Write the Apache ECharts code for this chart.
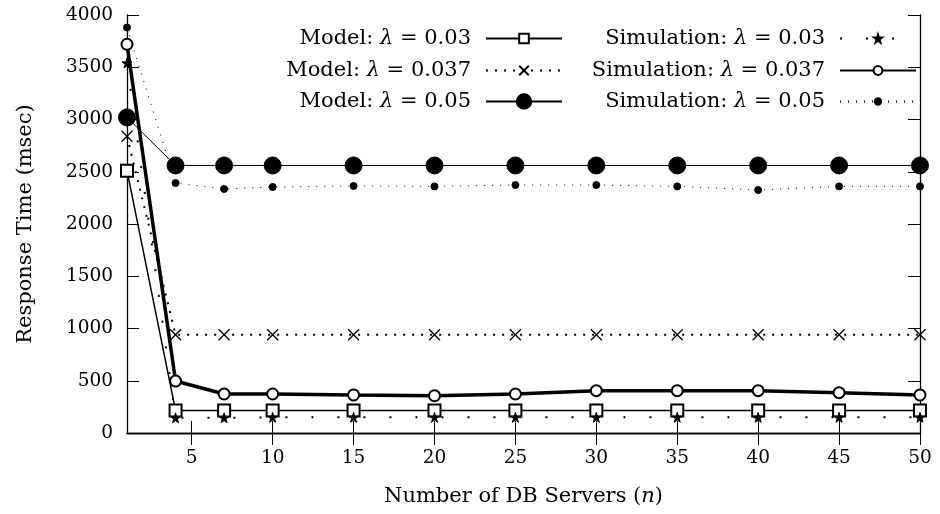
<!DOCTYPE html>
<html>
<head>
<meta charset="utf-8">
<script src="https://cdn.jsdelivr.net/npm/echarts@6/dist/echarts.min.js"></script>
<style>
  html, body { margin: 0; padding: 0; background: #fff; }
  #chart { width: 940px; height: 514px; }
</style>
</head>
<body>
<div id="chart"></div>
<script>
// number of DB servers
const servers = [1, 4, 7, 10, 15, 20, 25, 30, 35, 40, 45, 50];
const xTicks = [5, 10, 15, 20, 25, 30, 35, 40, 45, 50];

// response times (msec)
const model003 = [2510, 215, 215, 215, 215, 215, 215, 215, 215, 215, 215, 215];
const model0037 = [2840, 940, 940, 940, 940, 940, 940, 940, 940, 940, 940, 940];
const model005 = [3020, 2560, 2560, 2560, 2560, 2560, 2560, 2560, 2560, 2560, 2560, 2560];
const sim003 = [3540, 145, 145, 150, 150, 150, 150, 150, 150, 150, 150, 150];
const sim0037 = [3720, 497, 373, 373, 364, 357, 373, 405, 405, 405, 386, 364];
const sim005 = [3880, 2392, 2335, 2354, 2364, 2360, 2373, 2373, 2360, 2325, 2360, 2360];

const FONT = 'DejaVu Serif';
const starPath = 'path://M50,0L61,35L98,35L68,57L79,91L50,70L21,91L32,57L2,35L39,35Z';
const crossPath = 'path://M0,0L10,10M10,0L0,10';

function pts(arr) {
  return servers.map((x, i) => [x, arr[i]]);
}

document.addEventListener('DOMContentLoaded', function() {
  const chart = echarts.init(document.getElementById('chart'));

  const defs = [
    { name: 'Model: λ = 0.03', data: pts(model003), symbol: 'emptyRect', symbolSize: 12,
      lineStyle: { width: 1.5, type: 'solid' }, legendSize: 12 },
    { name: 'Model: λ = 0.037', data: pts(model0037), symbol: crossPath, symbolSize: 11,
      itemStyle: { color: 'none', borderWidth: 1.3 },
      lineStyle: { width: 2, type: [2, 7] }, legendSize: 12 },
    { name: 'Model: λ = 0.05', data: pts(model005), symbol: 'circle', symbolSize: 17,
      lineStyle: { width: 1, type: 'solid' }, legendSize: 18 },
    { name: 'Simulation: λ = 0.03', data: pts(sim003), symbol: starPath, symbolSize: 10,
      lineStyle: { width: 2, type: [2, 24] }, legendSize: 10 },
    { name: 'Simulation: λ = 0.037', data: pts(sim0037), symbol: 'emptyCircle', symbolSize: 11,
      lineStyle: { width: 3.5, type: 'solid' }, legendSize: 11 },
    { name: 'Simulation: λ = 0.05', data: pts(sim005), symbol: 'circle', symbolSize: 7,
      lineStyle: { width: 1, type: [1, 7] }, legendSize: 8 }
  ];

  const series = defs.map(s => ({
    type: 'line',
    name: s.name,
    data: s.data,
    symbol: s.symbol,
    symbolSize: s.symbolSize,
    showAllSymbol: true,
    color: '#000',
    itemStyle: Object.assign({ color: '#000', borderColor: '#000', borderWidth: 1 }, s.itemStyle || {}),
    lineStyle: Object.assign({ color: '#000' }, s.lineStyle)
  }));

  const textStyle = {
    fontFamily: FONT, fontSize: 21, color: '#000',
    rich: {
      i: { fontFamily: FONT, fontSize: 21, fontStyle: 'italic', color: '#000' },
      g: { width: 10 }
    }
  };

  // one legend per entry so each sample can keep its own marker size
  const rowCenters = [37, 69, 100];
  const legends = defs.map((s, i) => ({
    orient: 'vertical', align: 'right', padding: 0,
    right: i < 3 ? 377 : 23,
    top: rowCenters[i % 3] - 9,
    itemWidth: 76, itemHeight: s.legendSize,
    textStyle: textStyle,
    formatter: name => name.replace('λ', '{i|λ}') + '{g|}',
    data: [s.name]
  }));

  const axisLine = { show: true, lineStyle: { color: '#000', width: 1.3 } };
  const tickStyle = { fontFamily: FONT, fontSize: 18.5, color: '#000' };

  chart.setOption({
    backgroundColor: '#fff',
    animation: false,
    grid: { left: 127, right: 20, top: 15, bottom: 81 },
    legend: legends,
    xAxis: [{
      type: 'value', min: 1, max: 50,
      name: 'Number of DB Servers ({i|n})', nameLocation: 'middle', nameGap: 53,
      nameTextStyle: textStyle,
      axisLine: axisLine,
      axisTick: { inside: true, length: 12, customValues: xTicks, lineStyle: { color: '#000' } },
      axisLabel: Object.assign({ margin: 16, customValues: xTicks }, tickStyle),
      splitLine: { show: false }
    }, {
      type: 'value', min: 1, max: 50, position: 'top',
      axisLine: axisLine,
      axisTick: { inside: true, length: 12, customValues: xTicks, lineStyle: { color: '#000' } },
      axisLabel: { show: false },
      splitLine: { show: false }
    }],
    yAxis: [{
      type: 'value', min: 0, max: 4000, interval: 500,
      name: 'Response Time (msec)', nameLocation: 'middle', nameGap: 91,
      nameTextStyle: textStyle,
      axisLine: axisLine,
      axisTick: { inside: true, length: 12, lineStyle: { color: '#000' } },
      axisLabel: Object.assign({ margin: 14, formatter: v => String(v) }, tickStyle),
      splitLine: { show: false }
    }, {
      type: 'value', min: 0, max: 4000, interval: 500, position: 'right',
      axisLine: axisLine,
      axisTick: { inside: true, length: 12, lineStyle: { color: '#000' } },
      axisLabel: { show: false },
      splitLine: { show: false }
    }],
    series: series
  });
});
</script>
</body>
</html>
